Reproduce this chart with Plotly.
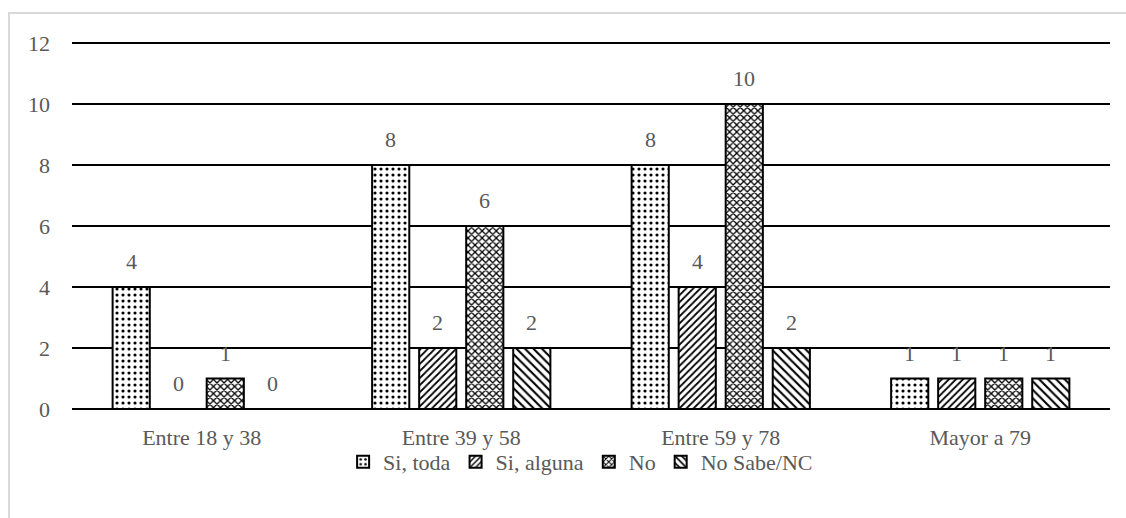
import plotly.graph_objects as go

categories = ["Entre 18 y 38", "Entre 39 y 58", "Entre 59 y 78", "Mayor a 79"]
series_names = ["Si, toda", "Si, alguna", "No", "No Sabe/NC"]
si_toda = [4, 8, 8, 1]
si_alguna = [0, 2, 4, 1]
no = [1, 6, 10, 1]
no_sabe = [0, 2, 2, 1]
y_ticks = [0, 2, 4, 6, 8, 10, 12]

series_values = [si_toda, si_alguna, no, no_sabe]
patterns = [
    dict(shape=".", size=6, solidity=0.22),
    dict(shape="/", size=5, solidity=0.35),
    dict(shape="x", size=5, solidity=0.45),
    dict(shape="\\", size=6, solidity=0.35),
]

FONT = "Liberation Serif"
GRAY = "#595959"
FS = 22

# plot-area geometry (pixels)
W, H = 1126, 518
ML, MR, MT, MB = 72, 16, 40, 109
PW = W - ML - MR
PH = H - MT - MB
Y_TOP = 12.1

# horizontal position of each series inside a category group
BARGAP = 0.275
GROUPGAP = 0.21
cat_px = PW / len(categories)
slot_px = cat_px * (1 - BARGAP) / len(series_names)
offsets = [(i - (len(series_names) - 1) / 2) * slot_px for i in range(len(series_names))]

fig = go.Figure()
for name, vals, pat in zip(series_names, series_values, patterns):
    fig.add_trace(go.Bar(
        name=name,
        x=categories,
        y=vals,
        marker=dict(
            color="white",
            line=dict(color="black", width=2),
            pattern=dict(fgcolor="black", bgcolor="white", fillmode="replace", **pat),
        ),
    ))

# value labels above each bar
annotations = []
for vals, dx in zip(series_values, offsets):
    for cat, v in zip(categories, vals):
        annotations.append(dict(
            x=cat, y=v, xref="x", yref="y",
            text=str(v), showarrow=False,
            xshift=dx, yshift=11, yanchor="bottom",
            font=dict(family=FONT, size=FS, color=GRAY),
        ))

fig.update_layout(
    width=W,
    height=H,
    margin=dict(l=ML, r=MR, t=MT, b=MB),
    paper_bgcolor="white",
    plot_bgcolor="white",
    barmode="group",
    bargap=BARGAP,
    bargroupgap=GROUPGAP,
    font=dict(family=FONT, size=FS, color=GRAY),
    annotations=annotations,
    legend=dict(
        orientation="h",
        x=0.49,
        xanchor="center",
        y=-(462 - (MT + PH)) / PH,
        yanchor="middle",
        bgcolor="rgba(0,0,0,0)",
        font=dict(family=FONT, size=FS, color=GRAY),
        itemwidth=30,
        traceorder="normal",
    ),
    xaxis=dict(
        showgrid=False,
        showline=False,
        ticks="",
        ticklabelstandoff=13,
        tickfont=dict(family=FONT, size=FS, color=GRAY),
    ),
    yaxis=dict(
        range=[0, Y_TOP],
        tickvals=y_ticks,
        showgrid=True,
        gridcolor="black",
        gridwidth=2,
        zeroline=True,
        zerolinecolor="black",
        zerolinewidth=2,
        showline=False,
        ticks="",
        ticklabelstandoff=21,
        tickfont=dict(family=FONT, size=FS, color=GRAY),
    ),
    shapes=[dict(
        type="rect",
        xref="paper", yref="paper",
        x0=(9 - ML) / PW, x1=(1140 - ML) / PW,
        y0=-(530 - (MT + PH)) / PH, y1=1 + (MT - 13) / PH,
        line=dict(color="#d9d9d9", width=2),
        fillcolor="rgba(0,0,0,0)",
        layer="below",
    )],
)

fig.write_html("out.html")
